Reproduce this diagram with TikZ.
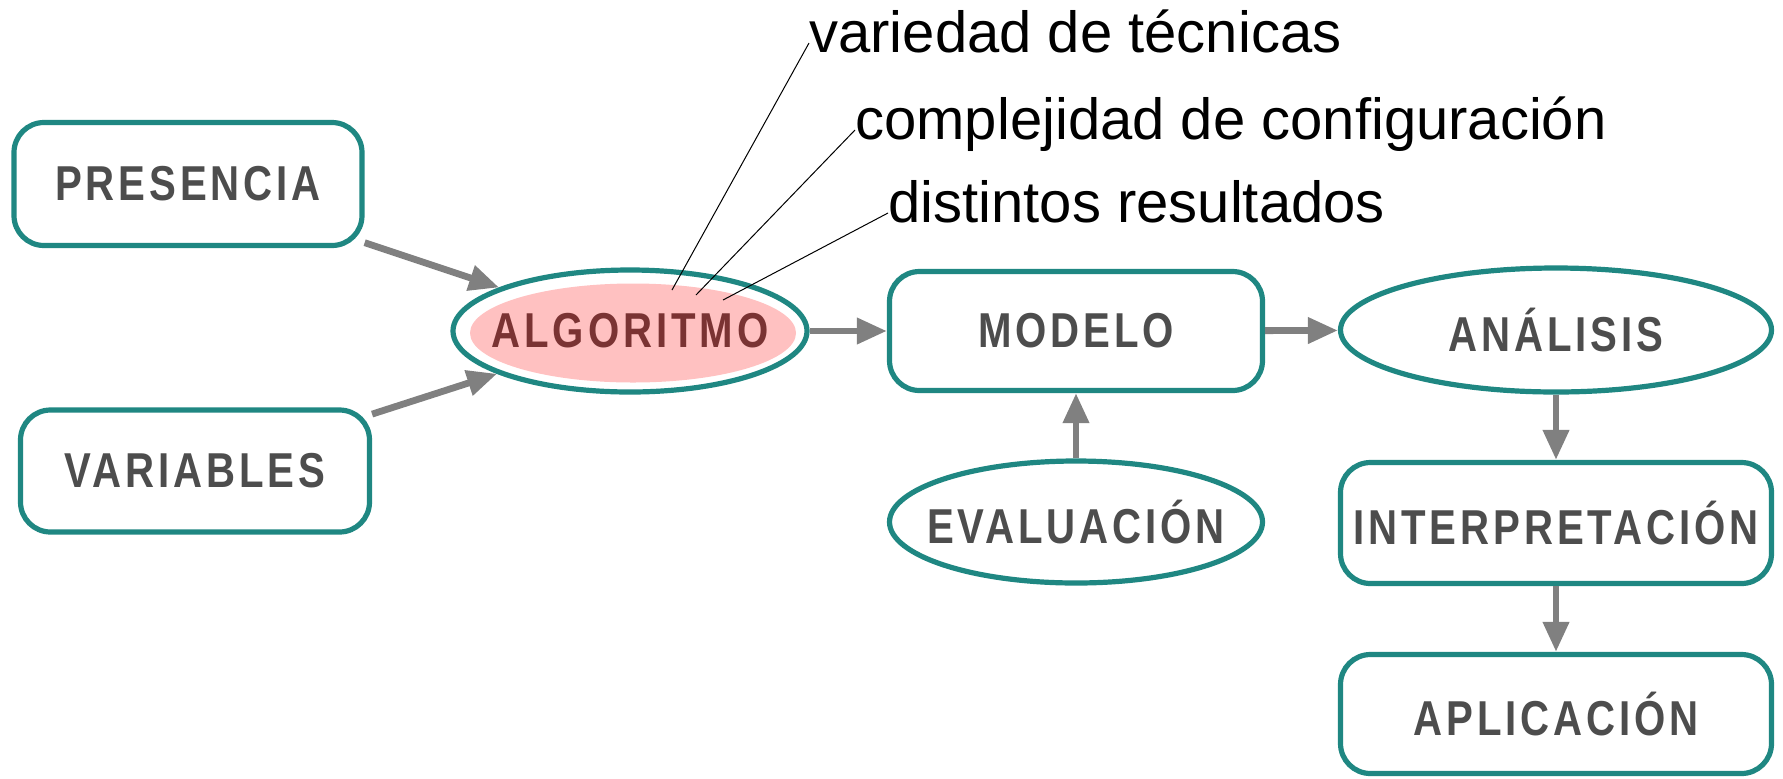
\documentclass[tikz,border=0pt]{standalone}
\usepackage{fontspec}
\setmainfont{Liberation Sans}
\newfontfamily\boxfont[FakeStretch=0.82,LetterSpace=8]{Liberation Sans}
\usepackage{xcolor}
\usetikzlibrary{arrows.meta,shapes.geometric}

\definecolor{tealline}{HTML}{1F8782}
\definecolor{boxtext}{HTML}{4D4D4D}
\definecolor{algtext}{HTML}{7A3333}
\definecolor{algpink}{HTML}{FFC1C1}
\definecolor{flowgray}{HTML}{808080}

\begin{document}
\begin{tikzpicture}[
    >={Triangle[length=15pt,width=12.5pt]},
    x=0.5pt, y=-0.5pt,
    box/.style={draw=tealline,line width=2.6pt,rounded corners=15pt,fill=white,
                inner sep=0pt,text=boxtext,
                font=\boxfont\bfseries\fontsize{24.5}{24.5}\selectfont},
    oval/.style={box,sharp corners,ellipse,inner xsep=-12pt},
    flow/.style={->,flowgray,line width=3.4pt},
    note/.style={anchor=west,inner sep=0pt,text height=9pt,text depth=0pt,
                 font=\fontsize{29}{29}\selectfont},
    leader/.style={black,line width=0.5pt},
  ]
  \useasboundingbox (0,0) rectangle (1783,778);

  % --- inputs ---
  \node[box,minimum width=174pt,minimum height=61.5pt] (pres) at (188,184) {PRESENCIA};
  \node[box,minimum width=174.5pt,minimum height=61pt] (vars) at (195,471) {VARIABLES};

  % --- algorithm (highlighted) ---
  \node[oval,minimum width=177pt,minimum height=61pt,text=algtext,
        path picture={\fill[algpink] ([xshift=1.5pt,yshift=-1pt]path picture bounding box.center)
                      ellipse [x radius=81.5pt,y radius=24.75pt];}] (alg) at (630,331) {ALGORITMO};

  % --- model + evaluation ---
  \node[box,minimum width=186.5pt,minimum height=59.5pt] (mod) at (1076,331) {MODELO};
  \node[oval,minimum width=186.5pt,minimum height=61pt] (eva) at (1076,522) {EVALUACIÓN};

  % --- right column ---
  \node[oval,minimum width=215.5pt,minimum height=62pt] (ana) at (1556,330) {ANÁLISIS};
  \node[box,minimum width=215.5pt,minimum height=60.5pt] (inter) at (1556,523) {INTERPRETACIÓN};
  \node[box,minimum width=215.5pt,minimum height=59.5pt] (apl) at (1556,714) {APLICACIÓN};

  % --- flow ---
  \draw[flow] (pres) -- (alg);
  \draw[flow] (vars) -- (alg);
  \draw[flow] (alg) -- (mod);
  \draw[flow] (mod) -- (ana);
  \draw[flow] (eva) -- (mod);
  \draw[flow] (ana) -- (inter);
  \draw[flow] (inter) -- (apl);

  % --- notes on the algorithm ---
  \node[note] (tec) at (809,43)  {variedad de técnicas};
  \node[note] (conf) at (855,130) {complejidad de configuración};
  \node[note] (res) at (888,213) {distintos resultados};
  \coordinate (p1) at (672,290);
  \coordinate (p2) at (696,295);
  \coordinate (p3) at (723,300);
  \draw[leader] (tec.west) -- (p1);
  \draw[leader] (conf.west) -- (p2);
  \draw[leader] (res.west) -- (p3);

\end{tikzpicture}
\end{document}
